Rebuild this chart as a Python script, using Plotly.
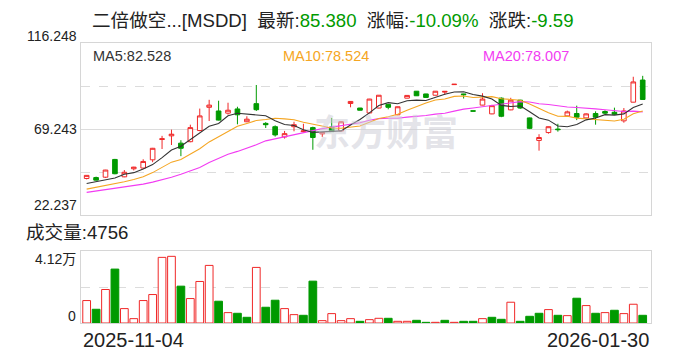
import plotly.graph_objects as go

# ---------------- data ----------------
title_name = "二倍做空...[MSDD]"
latest = "85.380"
pct_change = "-10.09%"
abs_change = "-9.59"
date_labels = ["2025-11-04", "2026-01-30"]
price_tick_labels = [116.248, 69.243, 22.237]
volume_tick_labels = ["4.12万", "0"]
volume_top_value = 41200
latest_volume = "4756"
ma_legend = {"MA5": "82.528", "MA10": "78.524", "MA20": "78.007"}

opens = [42.2, 42.7, 42.9, 52.6, 43.1, 47.5, 47.9, 52.4, 63.5, 65.5,
         61.5, 62.3, 68.4, 81.1, 79.1, 77.9, 80.2, 73.2, 83.1, 72.3,
         70.5, 64.9, 70.5, 67.8, 70.0, 66.6, 70.3, 68.2, 83.2, 80.7,
         78.0, 80.7, 82.7, 77.0, 86.1, 89.9, 88.4, 87.7, 89.4, 93.5,
         88.4, 79.2, 82.3, 77.5, 86.1, 79.7, 85.0, 75.3, 63.0, 67.3,
         69.2, 76.4, 77.7, 75.3, 77.7, 78.8, 78.4, 73.7, 83.9, 96.0]
highs = [44.0, 43.2, 46.9, 52.9, 46.8, 48.6, 52.7, 58.9, 65.5, 68.9,
         63.1, 71.6, 80.4, 85.2, 84.7, 83.6, 81.4, 76.2, 93.3, 73.0,
         71.2, 68.2, 73.2, 72.1, 70.5, 67.4, 75.3, 73.4, 84.4, 80.8,
         85.7, 87.8, 82.8, 81.5, 87.7, 90.0, 88.5, 90.0, 90.0, 93.8,
         88.5, 79.2, 88.8, 82.5, 86.5, 86.3, 85.2, 75.5, 66.4, 70.6,
         72.1, 79.3, 82.0, 77.8, 78.9, 79.5, 80.9, 80.7, 97.8, 98.3]
lows = [41.7, 41.1, 42.5, 44.5, 42.9, 46.6, 47.7, 51.1, 58.3, 60.5,
        54.4, 62.0, 68.0, 73.6, 73.9, 77.1, 71.8, 73.0, 79.1, 69.8,
        65.1, 64.0, 68.0, 67.3, 57.9, 64.9, 67.6, 68.0, 81.1, 79.4,
        77.9, 80.5, 80.0, 76.8, 86.0, 87.3, 86.4, 87.6, 87.9, 93.4,
        85.9, 79.0, 82.2, 77.3, 75.7, 79.5, 80.2, 69.2, 57.4, 66.7,
        67.8, 76.3, 74.1, 75.2, 71.6, 77.3, 76.9, 72.7, 83.8, 85.2]
closes = [43.9, 41.3, 46.8, 44.8, 45.6, 48.4, 51.5, 58.7, 63.9, 66.4,
          58.7, 70.0, 76.4, 82.3, 74.1, 79.5, 77.0, 74.6, 79.8, 71.6,
          66.0, 66.7, 71.6, 68.2, 64.6, 67.3, 67.8, 73.2, 84.3, 79.5,
          85.6, 87.7, 81.1, 81.4, 87.6, 87.4, 86.5, 89.9, 89.8, 93.7,
          88.0, 79.0, 85.6, 82.0, 76.2, 85.0, 80.7, 69.6, 64.6, 70.5,
          68.9, 78.6, 75.7, 77.5, 75.7, 77.9, 77.3, 79.1, 94.97, 85.38]
volumes = [13869, 8487, 20700, 33327, 8901, 2691, 13869, 17595, 40572, 41200,
           22770, 15111, 25668, 35604, 13455, 6417, 6003, 3519, 34362, 9729,
           14076, 8901, 5175, 4761, 25875, 1449, 5796, 1449, 2691, 1035,
           2070, 2898, 2898, 1035, 1035, 1656, 414, 414, 1656, 414,
           1035, 1035, 2691, 3519, 2277, 12834, 1035, 4140, 6003, 8280,
           4761, 4554, 15318, 10764, 6003, 6417, 7866, 5796, 11592, 4756]

# moving-average values before a full window exists
ma5_head = [39.5, 40.4, 41.4, 42.5]
ma10_head = [36.4, 37.3, 38.2, 39.5, 40.4, 41.6, 43.1, 45.4, 48.4]
ma20_head = [34.6, 35.3, 36.0, 36.9, 37.7, 38.4, 39.1, 40.2, 41.4, 42.9,
             44.5, 46.5, 48.2, 50.9, 53.3, 55.4, 57.0, 58.6, 60.6]


def moving_average(values, n, head):
    out = list(head)
    for i in range(n - 1, len(values)):
        out.append(sum(values[i - n + 1:i + 1]) / n)
    return out


ma5 = moving_average(closes, 5, ma5_head)
ma10 = moving_average(closes, 10, ma10_head)
ma20 = moving_average(closes, 20, ma20_head)

idx = list(range(len(closes)))

# ---------------- style ----------------
RED = "#f02828"
GREEN = "#009a00"
C_MA5 = "#333333"
C_MA10 = "#f5a623"
C_MA20 = "#f23cf2"
BORDER = "#d6d6d6"
GRID = "#dcdcdc"
TEXT = "#222222"
FONT_LATIN = "Liberation Sans, Noto Sans CJK SC, sans-serif"

price_hi, price_mid, price_lo = price_tick_labels
price_q_hi = (price_hi + price_mid) / 2
price_q_lo = (price_mid + price_lo) / 2
vol_axis_max = volume_top_value * 1.08

# volume colour: close versus previous close
vol_up = [True] + [closes[i] >= closes[i - 1] for i in range(1, len(closes))]
vol_fill = ["white" if u else GREEN for u in vol_up]
vol_line = [RED if u else GREEN for u in vol_up]

fig = go.Figure()

fig.add_trace(go.Candlestick(
    x=idx, open=opens, high=highs, low=lows, close=closes,
    xaxis="x", yaxis="y",
    increasing=dict(line=dict(color=RED, width=1), fillcolor="white"),
    decreasing=dict(line=dict(color=GREEN, width=1), fillcolor=GREEN),
    whiskerwidth=0, showlegend=False, hoverinfo="skip",
))
for vals, col in ((ma20, C_MA20), (ma10, C_MA10), (ma5, C_MA5)):
    fig.add_trace(go.Scatter(x=idx, y=vals, mode="lines", xaxis="x", yaxis="y",
                             line=dict(color=col, width=1.1), showlegend=False,
                             hoverinfo="skip"))

fig.add_trace(go.Bar(
    x=idx, y=volumes, xaxis="x2", yaxis="y2",
    marker=dict(color=vol_fill, line=dict(color=vol_line, width=1)),
    showlegend=False, hoverinfo="skip",
))

xr = [-0.6, len(idx) - 1 + 0.88]
axis_common = dict(showline=True, mirror=True, linecolor=BORDER, linewidth=1,
                   zeroline=False, ticks="")

annotations = []
# title
annotations.append(dict(
    xref="paper", yref="paper", x=0, y=1.079, xanchor="left", yanchor="middle",
    xshift=9, showarrow=False,
    font=dict(family=FONT_LATIN, size=18.6, color=TEXT),
    text=(f"{title_name}\u00a0\u00a0最新:<span style='color:{GREEN}'>{latest}</span>"
          f"\u00a0\u00a0涨幅:<span style='color:{GREEN}'>{pct_change}</span>"
          f"\u00a0\u00a0涨跌:<span style='color:{GREEN}'>{abs_change}</span>"),
))
# MA legend
for (name, val), xpos, col in zip(ma_legend.items(), [0.0, 0.351, 0.702],
                                  [C_MA5, C_MA10, C_MA20]):
    annotations.append(dict(
        xref="paper", yref="paper", x=xpos, y=0.9536, xanchor="left",
        yanchor="middle", xshift=10 if xpos == 0 else 0, showarrow=False,
        font=dict(family=FONT_LATIN, size=14.5, color=col), text=f"{name}:{val}"))
# price axis labels
for val, shift in zip(price_tick_labels, [7, 0, 10]):
    annotations.append(dict(
        xref="paper", yref="y", x=0, y=val, xanchor="right", yanchor="middle",
        xshift=-2, yshift=shift, showarrow=False,
        font=dict(family=FONT_LATIN, size=14, color=TEXT), text=f"{val:.3f}"))
# volume axis labels
for lab, val, shift in zip(volume_tick_labels, [volume_top_value, 0], [-3, 7]):
    annotations.append(dict(
        xref="paper", yref="y2", x=0, y=val, xanchor="right", yanchor="middle",
        xshift=-3, yshift=shift, showarrow=False,
        font=dict(family=FONT_LATIN, size=14, color=TEXT), text=lab))
# volume caption
annotations.append(dict(
    xref="paper", yref="paper", x=0, y=0.325, xanchor="left", yanchor="middle",
    xshift=-57, showarrow=False,
    font=dict(family=FONT_LATIN, size=18.6, color=TEXT), text=f"成交量:{latest_volume}"))
# date labels
annotations.append(dict(
    xref="paper", yref="paper", x=0, y=-0.061, xanchor="left", yanchor="middle",
    showarrow=False, font=dict(family=FONT_LATIN, size=20, color=TEXT),
    text=date_labels[0]))
annotations.append(dict(
    xref="paper", yref="paper", x=1, y=-0.061, xanchor="right", yanchor="middle",
    showarrow=False, font=dict(family=FONT_LATIN, size=20, color=TEXT),
    text=date_labels[1]))
# watermark
annotations.append(dict(
    xref="paper", yref="paper", x=0.535, y=0.689, xanchor="center", yanchor="middle",
    showarrow=False, font=dict(family="Noto Sans CJK SC", size=36,
                               color="rgba(205,205,215,0.55)"),
    text="<b>东方财富</b>"))

# the page body has an 8px default margin: size the figure to fit inside it
fig.update_layout(
    width=672, height=344,
    margin=dict(l=73, r=29, t=35, b=29),
    paper_bgcolor="white", plot_bgcolor="white",
    showlegend=False, bargap=0.18,
    xaxis=dict(domain=[0, 1], anchor="y", range=xr, showticklabels=False,
               showgrid=False, rangeslider=dict(visible=False), **axis_common),
    yaxis=dict(domain=[0.3857, 1], anchor="x", range=[price_lo, price_hi],
               showticklabels=False, tickvals=[price_mid], showgrid=True,
               gridcolor=GRID, gridwidth=1,
               minor=dict(tickvals=[price_q_lo, price_q_hi], showgrid=True,
                          griddash="dash", gridcolor=GRID, gridwidth=1),
               **axis_common),
    xaxis2=dict(domain=[0, 1], anchor="y2", range=xr, showticklabels=False,
                showgrid=False, **axis_common),
    yaxis2=dict(domain=[0, 0.2571], anchor="x2", range=[0, vol_axis_max],
                showticklabels=False, tickvals=[vol_axis_max / 2], showgrid=True,
                gridcolor=GRID, griddash="dash", gridwidth=1, **axis_common),
    annotations=annotations,
)

fig.write_html("out.html")
